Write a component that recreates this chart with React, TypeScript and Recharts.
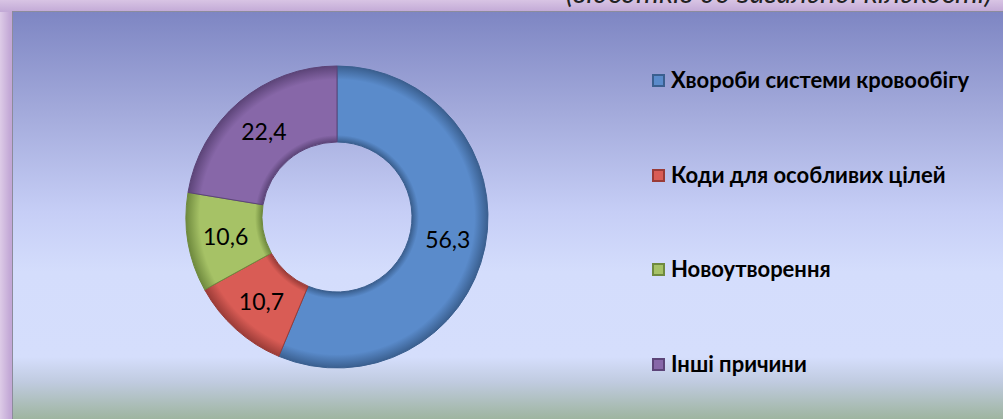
import { PieChart, Pie, Cell } from 'recharts';

const categories = ['Хвороби системи кровообігу', 'Коди для особливих цілей', 'Новоутворення', 'Інші причини'];
const shares = [56.3, 10.7, 10.6, 22.4];
const colors = ['#5a8bcb', '#d95c55', '#a6c266', '#8767a8'];
const edgeColors = ['#3a5f8f', '#9a3b37', '#6f8a3e', '#5c4478'];
const subtitle = '(відсотків до загальної кількості)';

const data = categories.map((name, i) => ({ name, value: shares[i] }));

const RADIAN = Math.PI / 180;
const CX = 337;
const CY = 217;
const INNER = 75;
const OUTER = 151;

const renderLabel = (props: any) => {
  const { cx, cy, midAngle, innerRadius, outerRadius, value } = props;
  const r = (innerRadius + outerRadius) / 2;
  const x = cx + r * Math.cos(-midAngle * RADIAN);
  const y = cy + r * Math.sin(-midAngle * RADIAN);
  return (
    <text x={x} y={y} textAnchor="middle" dominantBaseline="central"
      fontFamily="Lato, sans-serif" fontSize={23} fill="#000">
      {value.toFixed(1).replace('.', ',')}
    </text>
  );
};

function ChartLegend() {
  return (
    <div style={{ position: 'absolute', left: 652, top: 67 }}>
      {categories.map((name, i) => (
        <div key={i} style={{ height: 94.5, display: 'flex', alignItems: 'flex-start', whiteSpace: 'nowrap' }}>
          <span style={{
            display: 'inline-block', width: 13, height: 13, marginTop: 7, marginRight: 6,
            background: colors[i], boxShadow: `inset 0 0 0 2px ${edgeColors[i]}`,
          }} />
          <span style={{ fontFamily: 'Lato, sans-serif', fontWeight: 700, fontSize: 22, color: '#000', lineHeight: '26px' }}>
            {name}
          </span>
        </div>
      ))}
    </div>
  );
}

export default function App() {
  return (
    <div style={{
      position: 'fixed', left: 0, top: 0, width: 1003, height: 419, overflow: 'hidden',
      background: 'linear-gradient(to right, #ddcbe7 0px, #c3a8d6 10px)',
    }}>
      <div style={{ position: 'absolute', left: 0, top: 0, width: 1003, height: 12, background: 'linear-gradient(to bottom, #d8c4e4, #c2a9d6)' }} />
      <svg width={1003} height={12} style={{ position: 'absolute', left: 0, top: 0 }}>
        <text x={992} y={3} textAnchor="end" fontFamily="Lato, sans-serif" fontStyle="italic" fontSize={29} fill="#222">
          {subtitle}
        </text>
      </svg>
      <div style={{
        position: 'absolute', left: 12, top: 11, width: 1000, height: 420,
        borderLeft: '1.5px solid #8c8c9c', borderTop: '1.5px solid #8c8c9c',
        background: 'linear-gradient(to bottom, #7e86c3 0px, #a3aadb 100px, #c6cef6 200px, #d4ddfc 260px, #d5defc 345px, #c0cbe0 370px, #a9bcb4 395px, #9cb39c 410px)',
      }} />
      <div style={{ position: 'absolute', left: 0, top: 0 }}>
        <PieChart width={1003} height={419} margin={{ top: 0, right: 0, bottom: 0, left: 0 }}>
          <defs>
            {colors.map((c, i) => (
              <radialGradient key={i} id={`ring${i}`} gradientUnits="userSpaceOnUse" cx={CX} cy={CY} r={OUTER}>
                <stop offset={`${(INNER / OUTER) * 100}%`} stopColor={edgeColors[i]} />
                <stop offset={`${((INNER + 7) / OUTER) * 100}%`} stopColor={c} />
                <stop offset="91%" stopColor={c} />
                <stop offset="100%" stopColor={edgeColors[i]} />
              </radialGradient>
            ))}
          </defs>
          <Pie
            data={data}
            dataKey="value"
            nameKey="name"
            cx={CX}
            cy={CY}
            innerRadius={INNER}
            outerRadius={OUTER}
            startAngle={90}
            endAngle={-270}
            label={renderLabel}
            labelLine={false}
            isAnimationActive={false}
          >
            {data.map((_, i) => (
              <Cell key={i} fill={`url(#ring${i})`} stroke={edgeColors[i]} strokeWidth={1} />
            ))}
          </Pie>
        </PieChart>
      </div>
      <ChartLegend />
    </div>
  );
}
